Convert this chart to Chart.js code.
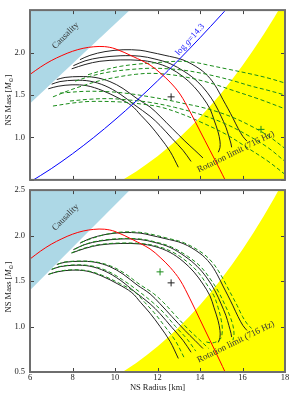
<!DOCTYPE html>
<html>
<head>
<meta charset="utf-8">
<script src="https://cdn.jsdelivr.net/npm/chart.js@4.4.1/dist/chart.umd.min.js"></script>
<style>
  html, body { margin: 0; padding: 0; background: #fff; }
  #wrap { position: relative; width: 300px; height: 400px; overflow: hidden; }
  canvas { position: absolute; left: 0; }
  #topChart { top: 0; }
  #bottomChart { top: 180px; }
</style>
</head>
<body>
<div id="wrap">
  <canvas id="topChart" width="300" height="190"></canvas>
  <canvas id="bottomChart" width="300" height="220"></canvas>
</div>
<script>
// NS mass-radius panels, [radius km, mass Msun] pairs

// axis ticks
const xTicks = [6, 8, 10, 12, 14, 16, 18];
const yTicks = [0.5, 1.0, 1.5, 2.0, 2.5];

// shaded regions
const causality = [[6.0, 1.40], [10.7, 2.50]];
const rotationLimit = [[10.35, 0.50], [10.5, 0.522], [11.0, 0.600], [11.5, 0.686], [12.0, 0.779], [12.5, 0.881],
  [13.0, 0.991], [13.5, 1.110], [14.0, 1.238], [14.5, 1.375], [15.0, 1.522], [15.5, 1.679], [16.0, 1.847],
  [16.5, 2.026], [17.0, 2.216], [17.5, 2.417], [17.7, 2.50], [18.0, 2.50]];

// red curve and log g line
const redCurve = [[6.0, 1.742], [6.5, 1.83], [7.0, 1.905], [7.5, 1.965], [8.0, 2.015], [8.5, 2.05], [9.0, 2.068],
  [9.5, 2.07], [10.0, 2.045], [10.85, 1.953], [11.65, 1.853], [12.12, 1.761], [12.59, 1.652], [13.06, 1.511],
  [13.53, 1.304], [14.0, 1.076], [14.47, 0.848], [14.94, 0.62], [15.18, 0.50]];
const logG = [[6.0, 0.475], [7.0, 0.632], [8.0, 0.808], [9.0, 1.0], [10.0, 1.208], [11.0, 1.43], [12.0, 1.666],
  [13.0, 1.914], [14.0, 2.174], [15.0, 2.444], [15.3, 2.527]];

// black M-R curves (same in both panels)
const U1 = [[8.35, 1.916], [8.82, 1.967], [9.53, 2.011], [10.38, 2.033], [11.18, 2.027], [11.65, 2.005], [12.35, 1.967],
  [13.2, 1.913], [14.0, 1.804], [14.47, 1.696], [14.8, 1.576], [15.08, 1.446], [15.32, 1.337], [15.55, 1.228],
  [15.79, 1.109], [16.02, 1.011], [16.21, 0.957]];
const U2 = [[8.04, 1.845], [8.59, 1.902], [9.29, 1.94], [10.24, 1.962], [11.18, 1.957], [11.88, 1.924], [12.59, 1.87],
  [13.29, 1.772], [13.86, 1.663], [14.33, 1.533], [14.71, 1.391], [14.99, 1.25], [15.22, 1.12], [15.36, 1.011],
  [15.46, 0.924], [15.49, 0.884]];
const U3 = [[7.96, 1.808], [8.59, 1.859], [9.29, 1.897], [10.24, 1.913], [11.18, 1.908], [11.88, 1.88], [12.59, 1.815],
  [13.2, 1.717], [13.72, 1.598], [14.14, 1.467], [14.47, 1.337], [14.66, 1.207], [14.85, 1.065], [14.94, 0.957],
  [14.94, 0.88], [14.86, 0.826]];
const L1 = [[7.26, 1.682], [7.65, 1.707], [8.35, 1.717], [9.06, 1.707], [9.76, 1.658], [10.38, 1.576], [11.04, 1.457],
  [11.65, 1.359], [12.12, 1.25], [12.68, 1.109], [13.29, 0.957], [13.76, 0.848], [14.14, 0.758]];
const L2 = [[7.02, 1.627], [7.41, 1.658], [8.12, 1.674], [8.82, 1.663], [9.53, 1.609], [10.24, 1.511], [10.94, 1.38],
  [11.65, 1.25], [12.12, 1.141], [12.68, 0.989], [13.2, 0.848], [13.58, 0.717]];
const L3 = [[6.86, 1.573], [7.32, 1.603], [7.98, 1.62], [8.68, 1.609], [9.39, 1.554], [10.14, 1.467], [10.79, 1.373],
  [11.22, 1.261], [11.65, 1.146], [12.12, 1.0], [12.59, 0.837], [12.98, 0.649]];

// green dashed curves, top panel
const DU1 = [[8.73, 1.739], [9.5, 1.795], [10.24, 1.837], [11.0, 1.862], [11.65, 1.875], [12.4, 1.89], [13.06, 1.897],
  [13.8, 1.882], [14.47, 1.848], [15.4, 1.80], [16.35, 1.75], [17.2, 1.70], [18.0, 1.641]];
const DU2 = [[8.12, 1.663], [8.9, 1.725], [9.76, 1.772], [10.7, 1.80], [11.65, 1.815], [12.4, 1.81], [13.2, 1.793],
  [14.0, 1.76], [14.8, 1.717], [15.6, 1.665], [16.35, 1.609], [17.2, 1.555], [18.0, 1.50]];
const DU3 = [[7.08, 1.478], [7.8, 1.55], [8.49, 1.609], [9.3, 1.67], [10.24, 1.717], [10.95, 1.743], [11.65, 1.755],
  [12.6, 1.74], [13.53, 1.701], [14.5, 1.64], [15.55, 1.554], [16.8, 1.45], [18.0, 1.337]];
const DL1 = [[7.41, 1.522], [8.59, 1.543], [9.76, 1.538], [10.7, 1.515], [11.65, 1.478], [12.4, 1.445], [13.2, 1.402],
  [14.0, 1.36], [14.8, 1.304], [15.6, 1.23], [16.35, 1.141], [17.2, 1.02], [18.0, 0.87]];
const DL2 = [[7.88, 1.429], [8.8, 1.45], [9.76, 1.457], [10.7, 1.44], [11.65, 1.413], [12.8, 1.355], [14.0, 1.272],
  [15.2, 1.16], [16.35, 1.011], [17.2, 0.88], [18.0, 0.717]];
const DL3 = [[7.08, 1.37], [8.0, 1.405], [8.82, 1.424], [10.24, 1.418], [11.2, 1.395], [12.12, 1.359], [13.1, 1.28],
  [14.0, 1.185], [15.2, 1.04], [16.35, 0.859], [17.2, 0.72], [18.0, 0.565]];

// green dashed curves, bottom panel (hug the black ones)
const BU1 = [[8.4, 1.925], [9.0, 1.975], [9.6, 2.015], [10.4, 2.04], [11.2, 2.035], [11.7, 2.015], [12.4, 1.975],
  [13.25, 1.92], [14.1, 1.81], [14.6, 1.70], [14.95, 1.58], [15.25, 1.45], [15.5, 1.34], [15.75, 1.23],
  [16.0, 1.11], [16.25, 1.02], [16.43, 0.98]];
const BU2 = [[8.1, 1.85], [8.6, 1.905], [9.3, 1.945], [10.25, 1.967], [11.2, 1.962], [11.9, 1.93], [12.65, 1.875],
  [13.4, 1.775], [14.0, 1.665], [14.45, 1.535], [14.85, 1.39], [15.15, 1.25], [15.4, 1.12], [15.55, 1.01],
  [15.6, 0.92], [15.55, 0.85]];
const BU3 = [[7.95, 1.81], [8.6, 1.865], [9.3, 1.902], [10.25, 1.918], [11.2, 1.913], [11.95, 1.885], [12.7, 1.82],
  [13.35, 1.72], [13.9, 1.60], [14.3, 1.47], [14.65, 1.34], [14.85, 1.21], [15.0, 1.07], [15.05, 0.95],
  [14.95, 0.86], [14.6, 0.82], [14.3, 0.83]];
const BL1 = [[7.3, 1.685], [7.65, 1.71], [8.35, 1.72], [9.06, 1.712], [9.8, 1.665], [10.45, 1.585], [11.15, 1.465],
  [11.8, 1.365], [12.3, 1.26], [12.85, 1.12], [13.45, 0.97], [13.95, 0.86], [14.4, 0.76]];
const BL2 = [[7.02, 1.63], [7.41, 1.66], [8.12, 1.678], [8.85, 1.668], [9.6, 1.615], [10.35, 1.515], [11.1, 1.39],
  [11.8, 1.26], [12.3, 1.15], [12.85, 1.0], [13.4, 0.86], [13.8, 0.73]];
const BL3 = [[6.9, 1.576], [7.32, 1.606], [7.98, 1.624], [8.7, 1.613], [9.45, 1.558], [10.25, 1.47], [10.95, 1.375],
  [11.4, 1.265], [11.85, 1.15], [12.35, 1.0], [12.85, 0.84], [13.25, 0.66]];

// + markers
const topMarkBlack = [[12.64, 1.478]];
const topMarkGreen = [[16.87, 1.095]];
const botMarkBlack = [[12.64, 1.48]];
const botMarkGreen = [[12.12, 1.601]];

const INK = '#222';
const GREEN = '#1a8c1a';
const SERIF = '"Liberation Serif", "DejaVu Serif", serif';

function toXY(arr) {
  return arr.map(([x, y]) => ({ x: x, y: y }));
}

function region(arr, color, fillTo) {
  return { data: toXY(arr), borderWidth: 0, borderColor: color, backgroundColor: color, fill: fillTo, tension: 0, order: 10 };
}

function solid(arr, color, order) {
  return { data: toXY(arr), borderColor: color, borderWidth: 1, fill: false, order: order };
}

function dashed(arr) {
  return { data: toXY(arr), borderColor: GREEN, borderWidth: 1, borderDash: [4, 2.5], fill: false, order: 3 };
}

function mark(arr, color) {
  return { data: toXY(arr), showLine: false, pointStyle: 'cross', pointRadius: 3.5, borderColor: color, borderWidth: 1, order: 0 };
}

// draw a string made of pieces (normal / italic / small lowered), centred on 0,0
function drawParts(ctx, parts, size) {
  let widths = parts.map(p => {
    ctx.font = (p.italic ? 'italic ' : '') + (p.small ? size * 0.7 : size) + 'px ' + SERIF;
    return ctx.measureText(p.t).width;
  });
  let total = widths.reduce((a, b) => a + b, 0);
  let x = -total / 2;
  parts.forEach((p, i) => {
    ctx.font = (p.italic ? 'italic ' : '') + (p.small ? size * 0.7 : size) + 'px ' + SERIF;
    ctx.fillText(p.t, x, p.small ? size * 0.3 : 0);
    x += widths[i];
  });
}

const panelFrame = {
  id: 'panelFrame',
  afterDatasetsDraw(chart, args, opts) {
    const ctx = chart.ctx;
    const a = chart.chartArea;
    const xs = chart.scales.x, ys = chart.scales.y;

    ctx.save();
    ctx.textAlign = 'left';
    ctx.textBaseline = 'middle';
    (opts.notes || []).forEach(n => {
      ctx.save();
      ctx.translate(xs.getPixelForValue(n.at[0]), ys.getPixelForValue(n.at[1]));
      ctx.rotate(n.angle * Math.PI / 180);
      ctx.fillStyle = n.color;
      drawParts(ctx, n.parts, 9);
      ctx.restore();
    });

    // inward ticks
    ctx.strokeStyle = '#444';
    ctx.lineWidth = 1;
    ctx.beginPath();
    xTicks.forEach(v => {
      const px = Math.round(xs.getPixelForValue(v)) + 0.5;
      ctx.moveTo(px, a.top); ctx.lineTo(px, a.top + 4);
      ctx.moveTo(px, a.bottom); ctx.lineTo(px, a.bottom - 4);
    });
    yTicks.forEach(v => {
      const py = Math.round(ys.getPixelForValue(v)) + 0.5;
      ctx.moveTo(a.left, py); ctx.lineTo(a.left + 4, py);
      ctx.moveTo(a.right, py); ctx.lineTo(a.right - 4, py);
    });
    ctx.stroke();

    // frame
    ctx.strokeStyle = '#6e6e6e';
    ctx.lineWidth = 2;
    ctx.strokeRect(a.left, a.top, a.right - a.left, a.bottom - a.top);

    // y title
    ctx.fillStyle = INK;
    ctx.save();
    ctx.translate(9, opts.yTitleY);
    ctx.rotate(-Math.PI / 2);
    drawParts(ctx, [{ t: 'NS Mass [' }, { t: 'M', italic: true }, { t: '\u2299', small: true }, { t: ']' }], 8.5);
    ctx.restore();

    if (opts.xTitleY) {
      ctx.save();
      ctx.translate((a.left + a.right) / 2, opts.xTitleY);
      drawParts(ctx, [{ t: 'NS Radius [km]' }], 8.5);
      ctx.restore();
    }
    ctx.restore();
  }
};

function panelOptions(cfg) {
  return {
    responsive: false,
    animation: false,
    devicePixelRatio: 1,
    layout: { padding: { top: cfg.padTop, right: 15, left: 0, bottom: 0 } },
    elements: { point: { radius: 0 }, line: { tension: 0.35 } },
    plugins: { legend: { display: false }, tooltip: { enabled: false }, panelFrame: cfg.frame },
    scales: {
      x: {
        type: 'linear', min: 6, max: 18,
        grid: { display: false, drawTicks: false }, border: { display: false },
        ticks: { stepSize: 2, display: cfg.xLabels, padding: 1, color: INK, maxRotation: 0,
          font: { family: SERIF, size: 8.5 } },
        afterFit: s => { s.height = cfg.xHeight; }
      },
      y: {
        type: 'linear', min: 0.5, max: 2.5,
        grid: { display: false, drawTicks: false }, border: { display: false },
        ticks: { stepSize: 0.5, padding: 5, color: INK, font: { family: SERIF, size: 8.5 }, callback: cfg.yLabel },
        afterFit: s => { s.width = 30; }
      }
    }
  };
}

const causalityNote = { parts: [{ t: 'Causality' }], at: [7.67, 2.2], angle: -45, color: '#333' };
const rotationNote = { parts: [{ t: 'Rotation limit (716 Hz)' }], at: [15.69, 0.83], angle: -26, color: '#333' };
const logGNote = { parts: [{ t: 'log ' }, { t: 'g', italic: true }, { t: '=14.3' }], at: [13.53, 2.152], angle: -48, color: '#2020ff' };

// top panel
new Chart(document.getElementById('topChart'), {
  type: 'line',
  data: {
    datasets: [
      region(causality, '#add8e6', 'end'),
      region(rotationLimit, '#ffff00', 'start'),
      solid(U1, INK, 4), solid(U2, INK, 4), solid(U3, INK, 4),
      solid(L1, INK, 4), solid(L2, INK, 4), solid(L3, INK, 4),
      dashed(DU1), dashed(DU2), dashed(DU3), dashed(DL1), dashed(DL2), dashed(DL3),
      solid(redCurve, '#ff0000', 2),
      solid(logG, '#0000ff', 2),
      mark(topMarkBlack, INK), mark(topMarkGreen, GREEN)
    ]
  },
  options: panelOptions({
    padTop: 3, xHeight: 3, xLabels: false,
    yLabel: v => (v === 0.5 || v === 2.5) ? '' : v.toFixed(1),
    frame: { notes: [causalityNote, rotationNote, logGNote], yTitleY: 100 }
  }),
  plugins: [panelFrame]
});

// bottom panel
new Chart(document.getElementById('bottomChart'), {
  type: 'line',
  data: {
    datasets: [
      region(causality, '#add8e6', 'end'),
      region(rotationLimit, '#ffff00', 'start'),
      solid(U1, INK, 4), solid(U2, INK, 4), solid(U3, INK, 4),
      solid(L1, INK, 4), solid(L2, INK, 4), solid(L3, INK, 4),
      dashed(BU1), dashed(BU2), dashed(BU3), dashed(BL1), dashed(BL2), dashed(BL3),
      solid(redCurve, '#ff0000', 2),
      mark(botMarkBlack, INK), mark(botMarkGreen, GREEN)
    ]
  },
  options: panelOptions({
    padTop: 8, xHeight: 28, xLabels: true,
    yLabel: v => v.toFixed(1),
    frame: { notes: [causalityNote, rotationNote], yTitleY: 107, xTitleY: 208 }
  }),
  plugins: [panelFrame]
});
</script>
</body>
</html>
